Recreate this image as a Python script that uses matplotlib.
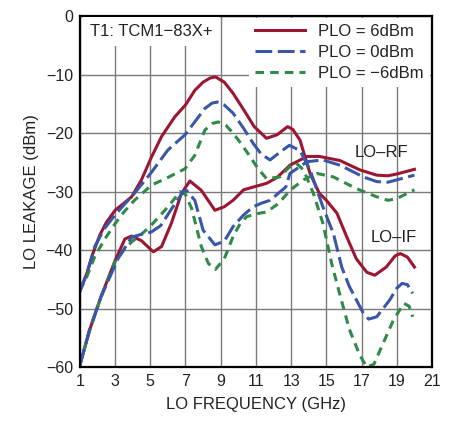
import matplotlib
matplotlib.use("Agg")
import matplotlib.pyplot as plt

# LO-IF curves (start near -47 dBm)
if_6_x = [1.0, 1.4, 1.75, 2.14, 2.5, 3.0, 3.5, 3.94, 4.5, 5.07, 5.64, 6.4, 7.0, 7.53, 8.0, 8.4, 8.7,
          9.2, 9.7, 10.3, 10.9, 11.6, 12.2, 12.8, 13.1, 13.5, 14.07, 14.6, 15.0, 15.6, 16.15, 16.7,
          17.3, 17.75, 18.4, 18.9, 19.2, 19.6, 20.0]
if_6_y = [-47, -44, -40.5, -37.4, -35.3, -33.2, -32.0, -30.9, -28.0, -24.1, -20.6, -17.2, -15.2,
          -12.7, -11.3, -10.6, -10.4, -11.3, -13.2, -16, -18.9, -20.9, -20.3, -18.9, -19.4, -21.2,
          -26.9, -30.3, -31.5, -33.7, -37.7, -41.5, -43.8, -44.3, -42.9, -41.0, -40.6, -41.2, -42.9]

if_0_x = [1.0, 1.4, 1.85, 2.4, 3.0, 3.5, 4.1, 5.07, 6.0, 6.97, 7.5, 8.1, 8.5, 8.8, 9.2, 9.7, 10.3,
          10.85, 11.3, 11.8, 12.4, 12.9, 13.5, 14.07, 14.8, 15.4, 15.87, 16.3, 16.7, 17.1, 17.4,
          17.86, 18.6, 19.0, 19.3, 19.6, 19.9]
if_0_y = [-47, -44, -39.4, -36.3, -34.0, -32.3, -30.3, -26.7, -22.9, -20.3, -18.2, -15.8, -14.9,
          -14.7, -15.2, -16.6, -19.2, -21.8, -23.6, -24.6, -23.2, -22.1, -23.0, -26.3, -32.6, -37.2,
          -42.9, -46.2, -48.5, -50.8, -51.8, -51.4, -48.5, -46.5, -45.7, -45.9, -47.4]

if_m6_x = [1.0, 1.4, 1.85, 2.4, 3.0, 3.5, 4.1, 5.07, 6.0, 6.97, 7.53, 8.1, 8.5, 8.86, 9.3, 9.7,
           10.2, 10.66, 11.1, 11.6, 12.36, 12.9, 13.3, 13.7, 14.26, 14.8, 15.3, 15.8, 16.3, 16.9,
           17.3, 17.7, 18.05, 18.8, 19.4, 19.7, 19.9]
if_m6_y = [-47, -44.5, -41.1, -38.2, -35.5, -33.5, -31.5, -28.9, -27.6, -26.1, -23.8, -19.5, -18.4,
           -18.1, -18.7, -20, -22, -24, -26, -27.8, -27.5, -25.8, -25.2, -26.3, -30.3, -35.4, -42.3,
           -48, -53.5, -58, -60, -59.5, -57.1, -52, -49.1, -49.6, -51.4]

# LO-RF curves (start near -60 dBm)
rf_6_x = [1.0, 1.55, 2.2, 3.0, 3.56, 3.94, 4.5, 5.17, 5.64, 6.2, 6.77, 7.25, 7.9, 8.67, 9.2, 9.7,
          10.3, 11.0, 11.6, 12.2, 12.93, 13.9, 14.6, 15.77, 16.9, 17.86, 18.5, 19.0, 20.0]
rf_6_y = [-59.7, -53.7, -48, -41.8, -38.1, -37.6, -38.4, -40.3, -39.4, -35.4, -30.3, -28.2, -29.8,
          -33.2, -32.6, -31.5, -29.7, -29.1, -28.6, -27.6, -25.5, -24.0, -24.0, -24.7, -26.3, -27.2,
          -27.3, -27, -26.2]

rf_0_x = [1.0, 1.55, 2.2, 3.18, 3.94, 4.5, 5.07, 5.6, 6.2, 6.87, 7.06, 7.53, 8.0, 8.67, 9.2, 9.7,
          10.3, 10.85, 11.3, 11.8, 12.7, 12.93, 13.9, 14.8, 15.77, 17.1, 17.86, 18.5, 19.0, 20.0]
rf_0_y = [-59.7, -53.7, -48, -41.4, -37.8, -37.3, -36.9, -35.8, -33.0, -30.0, -29.8, -31.5, -36.6,
          -39.1, -38.5, -36, -34, -32.6, -32, -31.5, -29.2, -26.9, -24.9, -24.6, -25.5, -27.5, -28.3,
          -28.4, -28, -27.2]

rf_m6_x = [1.0, 1.55, 2.2, 3.0, 3.5, 3.94, 4.5, 5.07, 5.83, 6.3, 6.7, 7.0, 7.35, 7.9, 8.3, 8.7, 9.2,
           9.7, 10.1, 10.47, 11.0, 11.6, 12.3, 12.93, 13.7, 14.45, 15.4, 16.7, 17.86, 18.5, 19.0, 20.0]
rf_m6_y = [-59.7, -53.7, -48, -42, -40.0, -38.6, -37.3, -35.7, -33.2, -31.5, -30.0, -30.5, -32.9,
           -39.4, -42.3, -43.3, -41.5, -37.7, -35.5, -34.3, -33.8, -33.5, -32.0, -29.8, -28.0, -26.9,
           -27.5, -29.5, -30.9, -31.5, -31.2, -29.7]

x_ticks = [1, 3, 5, 7, 9, 11, 13, 15, 17, 19, 21]
y_ticks = [0, -10, -20, -30, -40, -50, -60]
legend_labels = ["PLO = 6dBm", "PLO = 0dBm", "PLO = \u22126dBm"]

plt.rcParams['font.family'] = ['Liberation Sans', 'DejaVu Sans']

red = "#9b1631"
blue = "#3a56a8"
green = "#2f8a48"
txt = "#222222"
lw = 2.2
fs = 11.5

fig = plt.figure(figsize=(4.51, 4.21), dpi=100)
ax = fig.add_axes([0.177, 0.128, 0.781, 0.834])

l1, = ax.plot(if_6_x, if_6_y, color=red, lw=lw, solid_joinstyle="round")
ax.plot(rf_6_x, rf_6_y, color=red, lw=lw, solid_joinstyle="round")
l3, = ax.plot(if_m6_x, if_m6_y, color=green, lw=lw, dashes=(2.8, 2.0))
ax.plot(rf_m6_x, rf_m6_y, color=green, lw=lw, dashes=(2.8, 2.0))
l2, = ax.plot(if_0_x, if_0_y, color=blue, lw=lw, dashes=(5.5, 1.8))
ax.plot(rf_0_x, rf_0_y, color=blue, lw=lw, dashes=(5.5, 1.8))

ax.set_xlim(1, 21)
ax.set_ylim(-60, 0)
ax.set_xticks(x_ticks)
ax.set_yticks(y_ticks)
ax.set_yticklabels([str(v).replace("-", "\u2212") for v in y_ticks])
ax.tick_params(length=0, labelsize=fs, pad=5, colors=txt)
ax.grid(True, color="#7a7a7a", lw=1.0)
ax.set_axisbelow(True)
for s in ax.spines.values():
    s.set_linewidth(1.6)
    s.set_color("black")

ax.set_xlabel("LO FREQUENCY (GHz)", fontsize=fs + 0.5, color=txt, labelpad=6)
ax.set_ylabel("LO LEAKAGE (dBm)", fontsize=fs + 0.5, color=txt, labelpad=5)

ax.text(1.55, -2.7, "T1: TCM1\u221283X+", fontsize=fs + 0.5, color=txt, va="center", ha="left",
        bbox=dict(facecolor="white", edgecolor="none", pad=5), zorder=3)
ax.text(18.1, -23.3, "LO\u2013RF", fontsize=fs + 0.5, color=txt, ha="center", va="center")
ax.text(18.85, -37.8, "LO\u2013IF", fontsize=fs + 0.5, color=txt, ha="center", va="center")

leg = ax.legend([l1, l2, l3], legend_labels, loc="upper right", fontsize=fs + 0.5, frameon=True,
                facecolor="white", edgecolor="none", framealpha=1, fancybox=False,
                handlelength=3.0, handletextpad=0.8, labelspacing=0.35, borderaxespad=0.15,
                borderpad=0.35)
for t in leg.get_texts():
    t.set_color(txt)

fig.savefig("out.png", dpi=100)
